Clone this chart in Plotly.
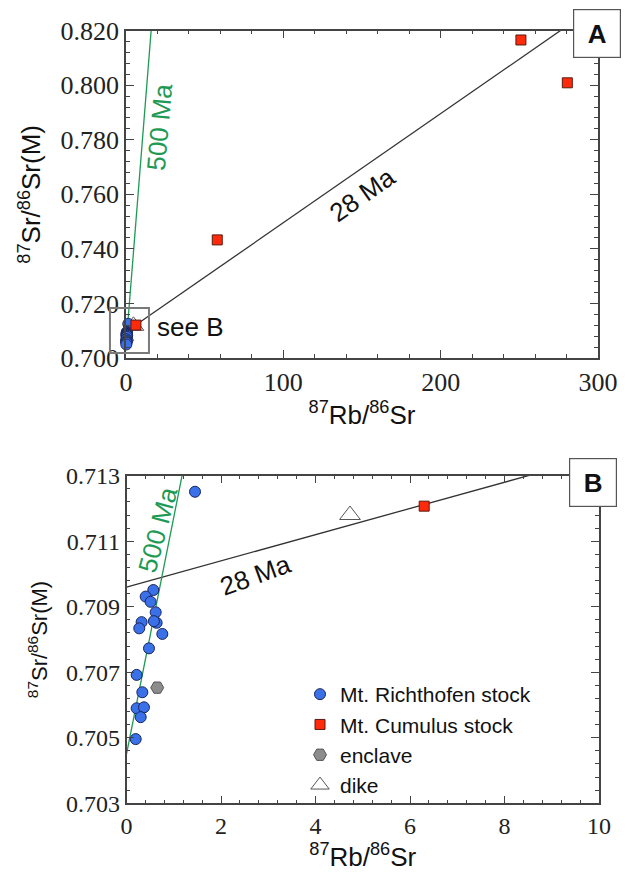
import plotly.graph_objects as go

# The page body adds an 8px margin, so the figure is drawn 8px smaller and all
# page positions below are converted with OFF.
PAGE_W, PAGE_H = 632, 874
OFF = 8
W, H = PAGE_W - OFF, PAGE_H - OFF

# ---------------- data ----------------
rich_rb = [1.45, 0.567, 0.406, 0.51, 0.618, 0.32, 0.27, 0.638, 0.58, 0.758,
           0.476, 0.215, 0.335, 0.215, 0.37, 0.30, 0.195]
rich_sr = [0.71251, 0.70951, 0.70931, 0.70915, 0.70883, 0.70853, 0.70834, 0.70851, 0.70856, 0.70817,
           0.70773, 0.70692, 0.70639, 0.70590, 0.70593, 0.70563, 0.70496]
cum_rb = [6.3, 58.0, 251.0, 280.5]
cum_sr = [0.71207, 0.7433, 0.8166, 0.8009]
encl_rb = [0.65]
encl_sr = [0.70653]
dike_rb = [4.73]
dike_sr = [0.7118]

iso_labels = ["28 Ma", "500 Ma"]
iso_intercepts = [0.7096, 0.7045]
iso_slopes = [0.000400, 0.00723]
iso_colors = ["#333333", "#1f9a55"]

xA_range = [0, 300]
yA_range = [0.700, 0.820]
xB_range = [0, 10]
yB_range = [0.703, 0.713]

# ---------------- layout geometry (page pixels) ----------------
A_px = dict(l=126, r=598, t=30.7, b=358)
B_px = dict(l=126.5, r=599, t=475.7, b=803.3)


def px_x(px):
    return (px - OFF) / W


def px_y(py):
    return 1 - (py - OFF) / H


def dom(p):
    return [px_x(p["l"]), px_x(p["r"])], [px_y(p["b"]), px_y(p["t"])]


axA_x, axA_y = dom(A_px)
axB_x, axB_y = dom(B_px)

fig = go.Figure()

AX = "#444444"
BLUE = "#3a70e8"
BLUE_L = "#1a2660"
RED = "#ff2a0a"
RED_L = "#5a1a10"


def add_all(xa, ya, xr, show):
    for lab, b, m, c in zip(iso_labels, iso_intercepts, iso_slopes, iso_colors):
        xs = [xr[0], xr[1]]
        ys = [b + m * x for x in xs]
        fig.add_trace(go.Scatter(x=xs, y=ys, mode="lines", line=dict(color=c, width=1.3),
                                 xaxis=xa, yaxis=ya, showlegend=False, hoverinfo="skip"))
    fig.add_trace(go.Scatter(x=encl_rb, y=encl_sr, mode="markers", name="enclave",
                             marker=dict(symbol="hexagon2", size=13, color="#8c8c8c",
                                         line=dict(color="#555555", width=1)),
                             xaxis=xa, yaxis=ya, showlegend=show, cliponaxis=False, legendrank=3))
    fig.add_trace(go.Scatter(x=dike_rb, y=dike_sr, mode="markers", name="dike",
                             marker=dict(symbol="triangle-up-open", size=18, color="#555555",
                                         line=dict(color="#555555", width=1)),
                             xaxis=xa, yaxis=ya, showlegend=show, cliponaxis=False, legendrank=4))
    fig.add_trace(go.Scatter(x=rich_rb, y=rich_sr, mode="markers", name="Mt. Richthofen stock",
                             marker=dict(symbol="circle", size=11, color=BLUE,
                                         line=dict(color=BLUE_L, width=1)),
                             xaxis=xa, yaxis=ya, showlegend=show, cliponaxis=False, legendrank=1))
    fig.add_trace(go.Scatter(x=cum_rb, y=cum_sr, mode="markers", name="Mt. Cumulus stock",
                             marker=dict(symbol="square", size=10, color=RED,
                                         line=dict(color=RED_L, width=1)),
                             xaxis=xa, yaxis=ya, showlegend=show, cliponaxis=False, legendrank=2))


add_all("x", "y", xA_range, False)
add_all("x2", "y2", xB_range, True)

SERIF = "Liberation Serif, Times New Roman, Times, serif"
SANS = "Liberation Sans, Arial, Helvetica, sans-serif"
tick_font_A = dict(family=SERIF, size=26, color="#222222")
tick_font_B = dict(family=SERIF, size=24, color="#222222")
title_font = dict(family=SANS, size=26, color="#111111")

common = dict(showline=True, linecolor=AX, linewidth=1.5, mirror="ticks", ticks="inside",
              ticklen=8, tickwidth=1.2, tickcolor=AX, showgrid=False, zeroline=False,
              automargin=False)

fig.update_layout(
    width=W, height=H, margin=dict(l=0, r=0, t=0, b=0),
    paper_bgcolor="white", plot_bgcolor="white",
    xaxis=dict(domain=axA_x, range=xA_range, dtick=100, tick0=0, tickfont=tick_font_A, anchor="y",
               minor=dict(dtick=20, ticks="inside", ticklen=4, tickcolor=AX, showgrid=False),
               title=dict(text="<sup>87</sup>Rb/<sup>86</sup>Sr", font=title_font, standoff=10),
               **common),
    yaxis=dict(domain=axA_y, range=yA_range, dtick=0.02, tick0=0.700, tickformat=".3f",
               tickfont=tick_font_A, anchor="x",
               minor=dict(dtick=0.004, ticks="inside", ticklen=4, tickcolor=AX, showgrid=False),
               title=dict(text="<sup>87</sup>Sr/<sup>86</sup>Sr(M)",
                          font=dict(family=SANS, size=26, color="#111111"), standoff=12),
               **common),
    xaxis2=dict(domain=axB_x, range=xB_range, dtick=2, tick0=0, tickfont=tick_font_B, anchor="y2",
                minor=dict(dtick=0.4, ticks="inside", ticklen=4, tickcolor=AX, showgrid=False),
                title=dict(text="<sup>87</sup>Rb/<sup>86</sup>Sr", font=title_font, standoff=10),
                **common),
    yaxis2=dict(domain=axB_y, range=yB_range, dtick=0.002, tick0=0.703, tickformat=".3f",
                tickfont=tick_font_B, anchor="x2",
                minor=dict(dtick=0.0004, tick0=0.703, ticks="inside", ticklen=4, tickcolor=AX,
                           showgrid=False),
                title=dict(text="<sup>87</sup>Sr/<sup>86</sup>Sr(M)",
                           font=dict(family=SANS, size=22, color="#111111"), standoff=12),
                **common),
    legend=dict(x=px_x(300), y=px_y(674), xanchor="left", yanchor="top",
                font=dict(family=SANS, size=21, color="#111111"),
                bgcolor="rgba(0,0,0,0)", borderwidth=0, tracegroupgap=0, itemwidth=30),
    showlegend=True,
)


def pfx(x, p, r):
    return px_x(p["l"] + (x - r[0]) / (r[1] - r[0]) * (p["r"] - p["l"]))


def pfy(y, p, r):
    return px_y(p["b"] - (y - r[0]) / (r[1] - r[0]) * (p["b"] - p["t"]))


ann_font = dict(family=SANS, size=26, color="#111111")

# "see B" box in panel A (data coords converted through the axis scale)
see_box_x = [-10.2, 14.6]
see_box_y = [0.7018, 0.7183]
fig.add_shape(type="rect", xref="paper", yref="paper",
              x0=pfx(see_box_x[0], A_px, xA_range), x1=pfx(see_box_x[1], A_px, xA_range),
              y0=pfy(see_box_y[0], A_px, yA_range), y1=pfy(see_box_y[1], A_px, yA_range),
              line=dict(color="#7a7a7a", width=2), layer="above")

fig.add_annotation(x=18.6, y=0.7112, xref="x", yref="y", text="see B", showarrow=False,
                   xanchor="left", font=ann_font)

# isochron labels
fig.add_annotation(x=150, y=0.7598, xref="x", yref="y", text="28 Ma", showarrow=False,
                   textangle=-35, font=ann_font)
fig.add_annotation(x=21, y=0.7845, xref="x", yref="y", text="500 Ma", showarrow=False,
                   textangle=-85, font=dict(family=SANS, size=26, color=iso_colors[1]))
fig.add_annotation(x=2.74, y=0.70997, xref="x2", yref="y2", text="28 Ma", showarrow=False,
                   textangle=-20, font=ann_font)
fig.add_annotation(x=0.656, y=0.71135, xref="x2", yref="y2", text="500 Ma", showarrow=False,
                   textangle=-75, font=dict(family=SANS, size=26, color=iso_colors[1]))

# panel letters
for lab, cx, cy in [("A", 597, 33.5), ("B", 593, 482.5)]:
    fig.add_annotation(x=px_x(cx), y=px_y(cy), xref="paper", yref="paper",
                       xanchor="center", yanchor="middle", text="<b>%s</b>" % lab,
                       showarrow=False, width=44, height=45, bgcolor="white",
                       bordercolor="#555555", borderwidth=1.2, borderpad=1,
                       font=dict(family=SANS, size=26, color="#111111"))

fig.write_html("out.html")
